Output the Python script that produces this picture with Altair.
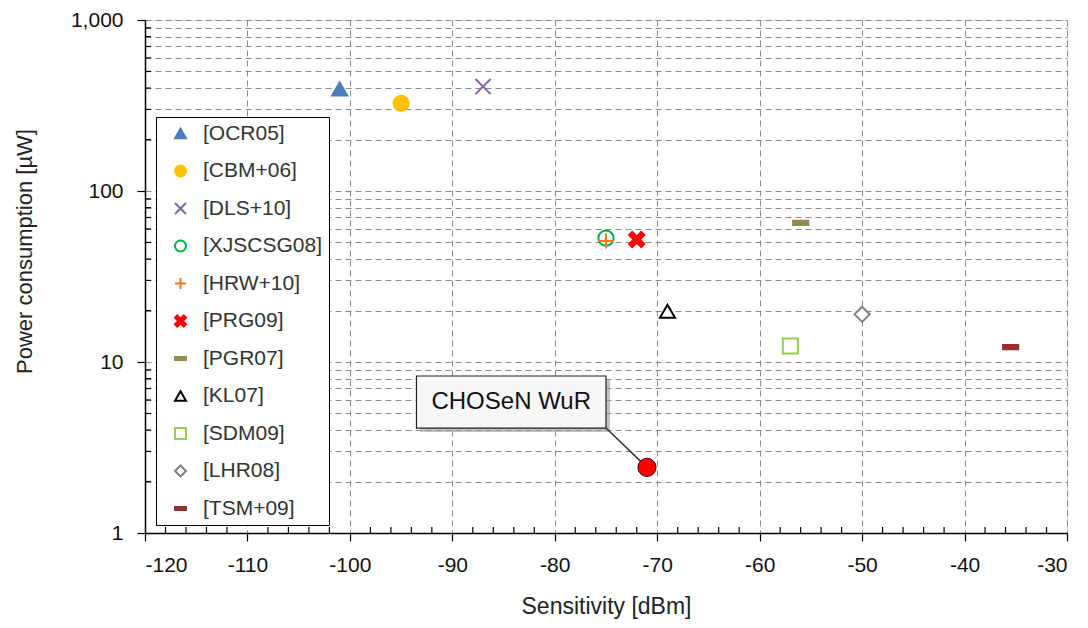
import altair as alt
import pandas as pd

# ---- data ----
names = ["[OCR05]", "[CBM+06]", "[DLS+10]", "[XJSCSG08]", "[HRW+10]", "[PRG09]",
         "[PGR07]", "[KL07]", "[SDM09]", "[LHR08]", "[TSM+09]"]
sensitivity = [-101, -95, -87, -75, -75, -72, -56, -69, -57, -50, -35.5]
power = [395, 326, 408, 53, 51, 52, 65, 19.8, 12.4, 19.0, 12.2]

colors = ["#4a7ebb", "#ffc000", "#8064a2", "#00b050", "#f07a1e", "#ff0000",
          "#948a54", "#000000", "#92d050", "#808080", "#9b2d30"]
fills = ["#4a7ebb", "#ffc000", "transparent", "white", "transparent", "#ff0000",
         "#948a54", "white", "white", "white", "#9b2d30"]
XPATH = "M-1,-1L1,1M-1,1L1,-1"
PLUS = "M-1,0L1,0M0,-1L0,1"
BOLDX = "M-1,-0.6L-0.6,-1L0,-0.4L0.6,-1L1,-0.6L0.4,0L1,0.6L0.6,1L0,0.4L-0.6,1L-1,0.6L-0.4,0Z"
DASH = "M-1,-0.28L1,-0.28L1,0.28L-1,0.28Z"
shapes = ["triangle-up", "circle", XPATH, "circle", PLUS, BOLDX,
          DASH, "triangle-up", "square", "diamond", DASH]

chosen_label = ["CHOSeN WuR"]
chosen_x = [-71]
chosen_y = [2.42]

# annotation box (data coordinates)
box_x = [-93.5]
box_x2 = [-75.0]
box_y = [4.11]
box_y2 = [8.28]
label_x = [-84.25]
label_y = [5.8]

x_major = list(range(-120, -29, 10))
x_minor = [v for v in range(-118, -30, 2) if v % 10 != 0]
y_major = [1, 10, 100, 1000]
y_all = [m * 10 ** k for k in range(3) for m in range(1, 10)] + [1000]
y_minor = [v for v in y_all if v not in y_major]

# ---- tables ----
df = pd.DataFrame({"name": names, "x": sensitivity, "y": power})
df_chosen = pd.DataFrame({"label": chosen_label, "x": chosen_x, "y": chosen_y})
df_box = pd.DataFrame({"x": box_x, "x2": box_x2, "y": box_y, "y2": box_y2,
                       "tx": label_x, "ty": label_y, "label": chosen_label,
                       "lx": box_x2, "ly": box_y, "px": chosen_x, "py": chosen_y})
df_xminor = pd.DataFrame({"x": x_minor})
df_yminor = pd.DataFrame({"y": y_minor})

W, H = 922, 513
FONT = "Liberation Sans"

xscale = alt.Scale(domain=[-120, -30], nice=False, zero=False)
yscale = alt.Scale(type="log", domain=[1, 1000], nice=False)

is_major_y = "indexof([1,10,100,1000], datum.value) >= 0"

xenc = alt.X("x:Q", scale=xscale, title="Sensitivity [dBm]",
             axis=alt.Axis(values=x_major, grid=True, gridDash=[6, 4], gridColor="#8a8a8a",
                           gridWidth=1, tickSize=8, tickColor="black", tickWidth=1.2,
                           domainColor="black", domainWidth=1.5,
                           labelExpr="'' + datum.value",
                           labelFontSize=21, labelColor="#111", labelPadding=13,
                           labelFont=FONT, titleFont=FONT, titleFontSize=23,
                           titleFontWeight="normal", titleColor="#222", titlePadding=20))
yenc = alt.Y("y:Q", scale=yscale, title="Power consumption [µW]",
             axis=alt.Axis(values=y_all, grid=True, gridDash=[6, 4], gridColor="#8a8a8a",
                           gridWidth=1,
                           labelExpr=f"{is_major_y} ? format(datum.value, ',') : ''",
                           tickSize=8, tickColor="black", tickWidth=1.2,
                           tickOpacity={"condition": {"test": is_major_y, "value": 1}, "value": 0},
                           domainColor="black", domainWidth=1.5,
                           labelFontSize=21, labelColor="#111", labelPadding=14,
                           labelFont=FONT, titleFont=FONT, titleFontSize=22,
                           titleFontWeight="normal", titleColor="#222",
                           titleX=-121, titleY=231, titleBaseline="middle",
                           titleAlign="center", titleAngle=-90))

points = alt.Chart(df).mark_point(size=230, strokeWidth=2, opacity=1).encode(
    x=xenc,
    y=yenc,
    shape=alt.Shape("name:N", scale=alt.Scale(domain=names, range=shapes), sort=names,
                    legend=alt.Legend(title=None, orient="none", legendX=11, legendY=97,
                                      labelFont=FONT, labelFontSize=21, labelColor="#333",
                                      symbolSize=120, symbolStrokeWidth=2,
                                      symbolOffset=8, labelOffset=12,
                                      rowPadding=15.5, padding=6,
                                      strokeColor="black", fillColor="white")),
    fill=alt.Fill("name:N", scale=alt.Scale(domain=names, range=fills), sort=names),
    stroke=alt.Stroke("name:N", scale=alt.Scale(domain=names, range=colors), sort=names),
)

xminor_ticks = alt.Chart(df_xminor).mark_rule(color="black", strokeWidth=1.2).encode(
    x=alt.X("x:Q", scale=xscale), y=alt.value(H - 6), y2=alt.value(H))
yminor_ticks = alt.Chart(df_yminor).mark_rule(color="black", strokeWidth=1.2).encode(
    y=alt.Y("y:Q", scale=yscale), x=alt.value(0), x2=alt.value(6))

shadow = alt.Chart(df_box).mark_rect(fill="#9a9a9a", opacity=0.6, xOffset=4, x2Offset=4,
                                     yOffset=4, y2Offset=4).encode(
    x=alt.X("x:Q", scale=xscale), x2="x2:Q", y=alt.Y("y:Q", scale=yscale), y2="y2:Q")
box = alt.Chart(df_box).mark_rect(fill="#f7f7f7", stroke="#222", strokeWidth=1.2).encode(
    x=alt.X("x:Q", scale=xscale), x2="x2:Q", y=alt.Y("y:Q", scale=yscale), y2="y2:Q")
box_text = alt.Chart(df_box).mark_text(font=FONT, fontSize=24, color="#111").encode(
    x=alt.X("tx:Q", scale=xscale), y=alt.Y("ty:Q", scale=yscale), text="label:N")
leader = alt.Chart(df_box).mark_rule(color="#333", strokeWidth=1.5).encode(
    x=alt.X("lx:Q", scale=xscale), x2="px:Q", y=alt.Y("ly:Q", scale=yscale), y2="py:Q")
chosen = alt.Chart(df_chosen).mark_point(shape="circle", size=330, filled=True, opacity=1,
                                         fill="#ff0000", stroke="#3a0000", strokeWidth=1).encode(
    x=alt.X("x:Q", scale=xscale), y=alt.Y("y:Q", scale=yscale))

chart = alt.layer(
    points, xminor_ticks, yminor_ticks, shadow, box, box_text, leader, chosen
).properties(
    width=W, height=H,
    autosize=alt.AutoSizeParams(type="none"),
    padding={"left": 137, "top": 12, "right": 12, "bottom": 87},
).configure_view(stroke="black", strokeWidth=1.5).configure(background="white")

chart.save("out.html", embed_options={"renderer": "svg", "actions": False})
